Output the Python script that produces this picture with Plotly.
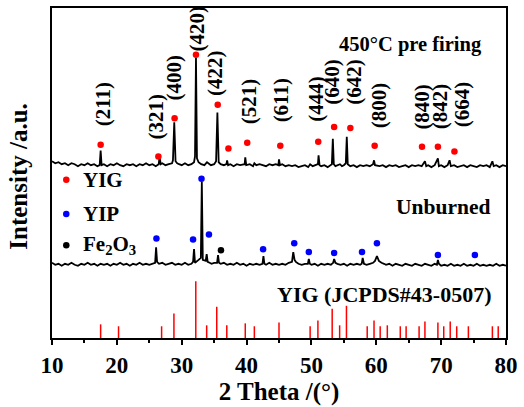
import plotly.graph_objects as go

FONT = "Liberation Serif, Times New Roman, serif"

# ---- reference (JCPDS#43-0507) stick pattern ----
ref_pos = [17.5, 20.26, 26.9, 28.8, 32.17, 33.85, 35.4, 36.95, 39.8, 41.2, 45.0,
           49.8, 51.0, 53.2, 54.35, 55.4, 58.6, 59.65, 60.6, 61.7, 63.7, 64.6,
           66.6, 67.5, 69.5, 70.4, 71.4, 72.4, 74.2, 77.9, 78.8]
ref_int = [14, 12, 12, 25, 58, 13, 32, 13, 15, 12, 16,
           12, 18, 30, 13, 33, 12, 18, 12, 13, 12, 12,
           12, 17, 16, 12, 17, 12, 12, 12, 12]

# ---- 450 C pre firing pattern (offset units) ----
top_x = [10.0, 10.5, 11, 11.5, 12, 12.5, 13, 13.5, 14, 14.5, 15, 15.5, 16, 16.5, 17, 17.35, 17.5, 17.65,
         18, 18.5, 19, 19.5, 20, 20.5, 21, 21.5, 22, 22.5, 23, 23.5, 24, 24.5, 25, 25.5, 26, 26.45, 26.6,
         26.75, 27, 27.5, 28, 28.5, 28.65, 28.85, 29.05, 29.3, 29.6, 30, 30.5, 31, 31.5, 31.9, 32.05, 32.2,
         32.35, 32.6, 33, 33.5, 33.9, 34.2, 34.5, 35, 35.3, 35.5, 35.7, 36, 36.5, 36.9, 37.0, 37.15, 37.5,
         38, 38.5, 39, 39.5, 39.7, 39.8, 39.95, 40.5, 41, 41.2, 41.5, 42, 42.5, 43, 43.5, 44, 44.5, 44.9,
         45.0, 45.15, 45.5, 46, 46.5, 47, 47.5, 48, 48.5, 49, 49.5, 49.8, 50.2, 50.6, 51, 51.1, 51.25, 51.5,
         52, 52.5, 53, 53.15, 53.3, 53.45, 53.7, 54, 54.4, 54.7, 55, 55.3, 55.45, 55.6, 56, 56.5, 57, 57.5,
         58, 58.5, 59, 59.5, 59.65, 59.8, 60.5, 61, 61.5, 62, 62.5, 63, 63.5, 64, 64.5, 65, 65.5, 66, 66.5,
         67, 67.5, 67.7, 68, 68.5, 69, 69.5, 69.65, 70, 70.5, 71, 71.3, 71.5, 72, 72.5, 73, 73.5, 74, 74.5,
         75, 75.5, 76, 76.5, 77, 77.5, 77.9, 78.1, 78.5, 79, 79.5, 80]
top_y = [181, 179, 180, 178, 179, 177, 179, 178, 176, 178, 177, 179, 177, 178, 176, 177, 192, 177,
         178, 176, 178, 177, 179, 177, 176, 178, 177, 178, 176, 178, 177, 179, 177, 178, 176, 178, 186,
         178, 179, 177, 178, 179, 182, 221, 181, 179, 178, 177, 179, 177, 178, 180, 186, 287,
         184, 180, 178, 177, 180, 178, 177, 178, 181, 231, 180, 178, 177, 178, 182, 177, 178,
         176, 178, 177, 178, 178, 185, 177, 178, 176, 179, 177, 178, 177, 176, 178, 177, 178, 177,
         183, 177, 178, 176, 177, 176, 177, 175, 176, 177, 175, 178, 176, 177, 178, 187, 177, 176,
         177, 175, 177, 178, 204, 178, 176, 177, 178, 176, 177, 179, 206, 178, 176, 177, 175, 177,
         176, 177, 176, 178, 182, 177, 176, 177, 175, 177, 176, 177, 175, 176, 177, 175, 177, 176, 177,
         176, 181, 176, 177, 175, 177, 184, 176, 177, 175, 177, 182, 176, 177, 175, 176, 177, 175, 177,
         176, 175, 177, 176, 177, 175, 181, 176, 177, 175, 177, 176]

# ---- unburned pattern ----
bot_x = [10, 10.5, 11, 11.5, 12, 12.5, 13, 13.5, 14, 14.5, 15, 15.5, 16, 16.5, 17, 17.5, 18, 18.5, 19, 19.5,
         20, 20.5, 21, 21.5, 22, 22.5, 23, 23.5, 24, 24.5, 25, 25.5, 25.9, 26.05, 26.2, 26.5, 27, 27.5, 28,
         28.5, 29, 29.5, 30, 30.5, 31, 31.5, 31.75, 31.9, 32.05, 32.3, 32.6, 32.95, 33.1, 33.25, 33.5, 33.7,
         33.85, 34.0, 34.3, 34.6, 35, 35.45, 35.6, 35.75, 36, 36.5, 37, 37.5, 38, 38.5, 39, 39.5, 40, 40.5,
         41, 41.5, 42, 42.45, 42.6, 42.75, 43, 43.5, 44, 44.5, 45, 45.5, 46, 46.5, 47, 47.2, 47.4, 47.6, 48,
         48.5, 49, 49.45, 49.6, 49.75, 50, 50.5, 51, 51.5, 52, 52.5, 53, 53.35, 53.5, 53.7, 54, 54.5, 55,
         55.5, 56, 56.5, 57, 57.5, 57.75, 57.9, 58.1, 58.5, 59, 59.5, 59.8, 60.1, 60.4, 60.8, 61.2, 61.5, 62,
         62.5, 63, 63.5, 64, 64.5, 65, 65.5, 66, 66.5, 67, 67.5, 68, 68.5, 69, 69.35, 69.5, 69.65, 70, 70.5,
         71, 71.5, 72, 72.5, 73, 73.5, 74, 74.5, 75, 75.5, 76, 76.5, 77, 77.5, 78, 78.5, 79, 79.5, 80]
bot_y = [77, 75, 76, 74, 76, 75, 77, 75, 74, 76, 75, 77, 75, 76, 74, 76, 75, 76, 74, 76,
         75, 77, 75, 76, 74, 76, 75, 77, 75, 76, 75, 76, 77, 93, 78, 76, 77, 75, 76,
         77, 75, 76, 75, 77, 75, 76, 78, 91, 77, 78, 80, 82, 160, 80, 79, 79,
         86, 78, 77, 76, 77, 77, 85, 77, 76, 77, 75, 76, 75, 77, 75, 76, 74, 76,
         75, 76, 75, 76, 84, 76, 75, 77, 75, 76, 75, 76, 75, 77, 78, 88, 80, 78, 76,
         75, 76, 76, 81, 76, 75, 76, 74, 76, 75, 76, 75, 77, 81, 77, 76, 75, 76,
         74, 76, 75, 76, 75, 76, 82, 76, 75, 76, 77, 79, 84, 79, 77, 76, 75, 76,
         74, 76, 75, 74, 76, 75, 74, 76, 75, 74, 76, 75, 74, 76, 75, 80, 76, 74, 75,
         74, 76, 74, 75, 74, 76, 74, 75, 74, 76, 74, 75, 74, 75, 74, 76, 74, 75, 74]

# ---- phase markers ----
yig_x = [17.5, 26.4, 28.9, 32.2, 35.55, 37.2, 40.1, 45.2, 51.05, 53.5, 56.0, 59.75, 67.05, 69.5, 72.05]
yig_y = [198, 186, 225, 290, 239, 194, 200, 197, 201, 216, 215, 197, 196, 196, 191]
yip_x = [26.1, 31.75, 33.05, 34.2, 42.55, 47.35, 49.6, 53.5, 57.8, 60.1, 69.5, 75.2]
yip_y = [102, 101, 163, 106, 91, 97, 88, 87, 88, 97, 85, 85]
fe_x = [36.05]
fe_y = [90]

# ---- hkl labels ----
hkl_text = ["(211)", "(321)", "(400)", "(420)", "(422)", "(521)", "(611)",
            "(444)", "(640)", "(642)", "(800)", "(840)", "(842)", "(664)"]
hkl_x = [17.8, 26.05, 28.85, 32.35, 35.2, 40.3, 45.25, 50.7, 53.25, 56.65, 60.35, 67.05, 69.75, 73.15]
hkl_y = [239, 227, 267, 317, 272, 242, 243, 245, 262, 262, 238, 237, 237, 239]

legend_names = ["YIG", "YIP", "Fe<sub>2</sub>O<sub>3</sub>"]
legend_colors = ["#ff0000", "#0000ff", "#000000"]
legend_x = 12.2
legend_y = [162, 127, 95]

fig = go.Figure()

# reference sticks
sx, sy = [], []
for p, h in zip(ref_pos, ref_int):
    sx += [p, p, None]
    sy += [0, h, None]
fig.add_trace(go.Scatter(x=sx, y=sy, mode="lines", line=dict(color="#ff0000", width=1.5),
                         showlegend=False, hoverinfo="skip"))

fig.add_trace(go.Scatter(x=top_x, y=top_y, mode="lines", line=dict(color="black", width=1.8),
                         showlegend=False))
fig.add_trace(go.Scatter(x=bot_x, y=bot_y, mode="lines", line=dict(color="black", width=1.8),
                         showlegend=False))

fig.add_trace(go.Scatter(x=yig_x, y=yig_y, mode="markers", marker=dict(color="#ff0000", size=6.5),
                         showlegend=False))
fig.add_trace(go.Scatter(x=yip_x, y=yip_y, mode="markers", marker=dict(color="#0000ff", size=6.5),
                         showlegend=False))
fig.add_trace(go.Scatter(x=fe_x, y=fe_y, mode="markers", marker=dict(color="black", size=6.5),
                         showlegend=False))

# legend-like markers
fig.add_trace(go.Scatter(x=[legend_x] * 3, y=legend_y, mode="markers",
                         marker=dict(color=legend_colors, size=6.5), showlegend=False))

bold = dict(family=FONT, size=21, color="black", weight="bold")

for name, yy in zip(legend_names, legend_y):
    fig.add_annotation(x=14.5, y=yy, text=name, showarrow=False, xanchor="left", yanchor="middle",
                       font=bold)

for t, xx, yy in zip(hkl_text, hkl_x, hkl_y):
    fig.add_annotation(x=xx, y=yy, text=t, showarrow=False, textangle=-90, font=bold,
                       xanchor="center", yanchor="middle")

fig.add_annotation(x=65.35, y=301, text="450°C pre firing", showarrow=False, font=dict(bold, size=20.5))
fig.add_annotation(x=70.3, y=134, text="Unburned", showarrow=False, font=dict(bold, size=21.5))
fig.add_annotation(x=61.2, y=45, text="YIG (JCPDS#43-0507)", showarrow=False, font=dict(bold, size=22))

# y axis title as a rotated annotation (to match its vertical position)
fig.add_annotation(xref="paper", yref="paper", x=-0.074, y=0.49, text="Intensity /a.u.",
                   showarrow=False, textangle=-90, xanchor="center", yanchor="middle",
                   font=dict(family=FONT, size=25, color="black", weight="bold"))

fig.update_layout(
    width=524, height=407,
    margin=dict(l=52, r=14, t=6, b=63),
    paper_bgcolor="white", plot_bgcolor="white",
    showlegend=False,
    font=dict(family=FONT, color="black"),
)
fig.update_xaxes(range=[10, 80], dtick=10, tick0=10, ticks="outside", ticklen=5, tickwidth=1.5,
                 tickcolor="black", showline=True, linecolor="black", linewidth=2, mirror=True,
                 showgrid=False, zeroline=False,
                 minor=dict(dtick=5, tick0=10, ticks="outside", ticklen=3, tickwidth=1.5, tickcolor="black"),
                 tickfont=dict(family=FONT, size=23, color="black", weight="bold"),
                 title=dict(text="2 Theta /(°)", standoff=6,
                            font=dict(family=FONT, size=25, color="black", weight="bold")))
fig.update_yaxes(range=[0, 338], showticklabels=False, ticks="", showline=True, linecolor="black",
                 linewidth=2, mirror=True, showgrid=False, zeroline=False)

fig.write_html("out.html")
